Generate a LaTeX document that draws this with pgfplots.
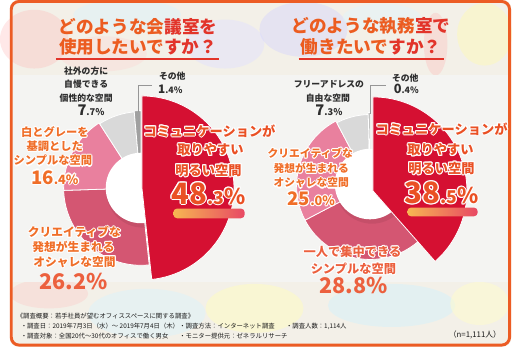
\documentclass[border=0pt]{standalone}
\usepackage{fontspec}
\setmainfont{Noto Sans CJK JP}
\usepackage{pgfplots}
\usepackage{pgfplotstable}
\pgfplotsset{compat=1.18}
\usepackage{contour}
\contourlength{1.1pt}
\contournumber{10}

\definecolor{cred}{RGB}{213,16,50}
\definecolor{cpd}{RGB}{212,86,114}
\definecolor{cpl}{RGB}{233,128,158}
\definecolor{cgl}{RGB}{217,217,217}
\definecolor{cgd}{RGB}{160,160,160}
\definecolor{bgcream}{RGB}{243,240,232}
\definecolor{bandgray}{RGB}{244,244,242}
\definecolor{frameor}{RGB}{236,92,36}
\definecolor{tor}{RGB}{236,92,32}
\definecolor{tor2}{RGB}{226,52,42}
\definecolor{lblor}{RGB}{240,110,40}
\definecolor{lblred}{RGB}{234,80,36}
\definecolor{pctor}{RGB}{236,96,62}
\definecolor{txtgray}{RGB}{45,45,45}
\definecolor{footc}{RGB}{25,25,25}
\definecolor{leader}{RGB}{150,150,150}
\definecolor{baror1}{RGB}{247,182,82}
\definecolor{baror2}{RGB}{232,72,100}

\newcommand\fs[1]{\fontsize{#1}{#1}\selectfont}
\newcommand\W[1]{\contour{white}{#1}}
\newcommand\pctp[5]{{\fs{#3}#1\fs{#4}#2\fs{#5}\%}}
\newcommand\pct[5]{\contour{white}{\fs{#3}#1\fs{#4}#2\fs{#5}\%}}

\pgfplotstableread{
v r dx dy col
48.3 94 1 0 cred
26.2 79 0 0 cpd
16.4 79 0 0 cpl
7.7 78 0 0 cgl
1.4 79 0 0 cgd
}\leftpie

\pgfplotstableread{
v r dx dy col
38.5 96 3 5 cred
28.8 75 0 0 cpd
25.0 75 0 0 cpl
7.3 73 0 0 cgl
0.4 75 0 0 cgd
}\rightpie

% #1 table, #2 cx, #3 cy, #4 first row, #5 last row
\newcommand\drawslices[5]{%
  \def\cum{0}%
  \pgfplotsforeachungrouped \i in {0,...,4}{%
    \pgfplotstablegetelem{\i}{v}\of#1\let\sv\pgfplotsretval
    \pgfmathsetmacro\sa{\cum*3.6}%
    \pgfmathsetmacro\cum{\cum+\sv}%
    \pgfmathsetmacro\sb{\cum*3.6}%
    \ifnum\i<#4\relax\else\ifnum\i>#5\relax\else
      \pgfplotstablegetelem{\i}{r}\of#1\let\sr\pgfplotsretval
      \pgfplotstablegetelem{\i}{dx}\of#1\let\sdx\pgfplotsretval
      \pgfplotstablegetelem{\i}{dy}\of#1\let\sdy\pgfplotsretval
      \pgfplotstablegetelem{\i}{col}\of#1\let\scol\pgfplotsretval
      \pgfmathsetmacro\ccx{#2+\sdx}\pgfmathsetmacro\ccy{#3+\sdy}%
      \edef\tmp{\noexpand\addplot[fill=\scol, draw=white, line width=0.8pt, domain=\sa:\sb, samples=60] ({\ccx+\sr*sin(x)},{\ccy-\sr*cos(x)}) -- (axis cs:\ccx,\ccy) -- cycle;}%
      \tmp
    \fi\fi
  }%
}

\begin{document}
\begin{tikzpicture}
\begin{axis}[width=512pt,height=354pt,scale only axis,
  xmin=0,xmax=512,ymin=0,ymax=354,y dir=reverse,
  hide axis,clip=false]

% ---------- background ----------
\fill[white] (0,0) rectangle (512,354);
\fill[bgcream, rounded corners=8pt] (0,0) rectangle (512,354);
\fill[red!30, opacity=0.30] (25,40) ellipse [x radius=35, y radius=30];
\fill[cyan!15, opacity=0.45] (120,15) ellipse [x radius=55, y radius=15];
\fill[red!20, opacity=0.25] (95,55) ellipse [x radius=45, y radius=18];
\fill[blue!12, opacity=0.45] (220,45) ellipse [x radius=40, y radius=25];
\fill[blue!18, opacity=0.40] (300,30) ellipse [x radius=45, y radius=28];
\fill[red!30, opacity=0.30] (435,45) ellipse [x radius=12, y radius=32];
\fill[yellow!30, opacity=0.45] (485,35) ellipse [x radius=28, y radius=32];
\fill[cyan!12, opacity=0.45] (380,18) ellipse [x radius=40, y radius=14];
\fill[red!25, opacity=0.30] (40,300) ellipse [x radius=40, y radius=15];
\fill[cyan!15, opacity=0.45] (140,320) ellipse [x radius=60, y radius=25];
\fill[yellow!25, opacity=0.5] (250,315) ellipse [x radius=50, y radius=25];
\fill[cyan!18, opacity=0.45] (390,312) ellipse [x radius=65, y radius=22];
\fill[yellow!20, opacity=0.5] (480,310) ellipse [x radius=30, y radius=22];
\fill[bandgray] (3,77) rectangle (509,288);
\draw[frameor, line width=3pt, rounded corners=8pt] (1.5,1.5) rectangle (510.5,352.5);

% ---------- titles ----------
\node[anchor=base, inner sep=0, font=\fs{18}\bfseries] at (131,34)
  {{\color{tor}どのような会}{\color{tor2}議室を}};
\node[anchor=base, inner sep=0, font=\fs{18}\bfseries] at (131,55)
  {{\color{tor}使用したいで}{\color{tor2}すか？}};
\draw[tor2, line width=1.6pt] (47,60) -- (214,60);
\node[anchor=base, inner sep=0, font=\fs{18}\bfseries] at (369,33)
  {{\color{tor}どのような執務}{\color{tor2}室で}};
\node[anchor=base, inner sep=0, font=\fs{18}\bfseries] at (369,55)
  {{\color{tor}働きたいで}{\color{tor2}すか？}};
\draw[tor2, line width=1.6pt] (295,60) -- (444,60);

% ---------- pies ----------
\drawslices{\leftpie}{134}{192}{1}{4}
\drawslices{\rightpie}{368}{190}{1}{4}
\fill[black, opacity=0.07] (136,195) circle[radius=37.5];
\fill[white] (134,192) circle[radius=36];
\fill[black, opacity=0.07] (370,191) circle[radius=37.5];
\fill[white] (368,188) circle[radius=36];
\drawslices{\leftpie}{134}{192}{0}{0}
\drawslices{\rightpie}{368}{190}{0}{0}

% leaders
\draw[leader, line width=0.8pt] (145,87) -- (131,87) -- (131,114);
\draw[leader, line width=0.8pt] (384,87) -- (368.5,87) -- (368.5,116);

% ---------- left pie labels ----------
\begin{scope}[every node/.style={anchor=base, inner sep=0, font=\bfseries}]
\node[text=txtgray, font=\fs{9}\bfseries] at (78,76.5) {社外の方に};
\node[text=txtgray, font=\fs{9}\bfseries] at (78,89.5) {自慢できる};
\node[text=txtgray, font=\fs{9}\bfseries] at (78,103.5) {個性的な空間};
\node[text=txtgray, font=\bfseries] at (83,118) {\pctp{7}{.7}{15}{9.5}{9.5}};
\node[text=txtgray, font=\fs{9}\bfseries] at (166,81.5) {その他};
\node[text=txtgray, font=\bfseries] at (164,95) {\pctp{1}{.4}{12}{9}{9}};

\node[text=lblor, font=\fs{11.5}\bfseries] at (46,139.5) {\W{白とグレーを}};
\node[text=lblor, font=\fs{11.5}\bfseries] at (46,153.5) {\W{基調とした}};
\node[text=lblor, font=\fs{11.5}\bfseries] at (44,168.5) {\W{シンプルな空間}};
\node[text=lblor, font=\bfseries] at (46,188) {\pct{16}{.4}{19}{13}{13}};

\node[text=lblor, font=\fs{12}\bfseries] at (66,242) {\W{クリエイティブな}};
\node[text=lblor, font=\fs{12}\bfseries] at (65,257) {\W{発想が生まれる}};
\node[text=lblor, font=\fs{12}\bfseries] at (66,272) {\W{オシャレな空間}};
\node[text=pctor, font=\bfseries] at (65,296) {\pctp{26}{.2}{22}{22}{22}};

\node[text=lblred, font=\fs{13.5}\bfseries] at (204,139) {\W{コミュニケーションが}};
\node[text=lblred, font=\fs{13.5}\bfseries] at (205,158) {\W{取りやすい}};
\node[text=lblred, font=\fs{13.5}\bfseries] at (203,179) {\W{明るい空間}};
\node[text=lblred, font=\bfseries] at (203,208.5) {\pct{48}{.3}{30}{18}{22}};
\end{scope}
\shade[left color=baror1, right color=baror2, rounded corners=4pt] (167,213) rectangle (240,223);

% ---------- right pie labels ----------
\begin{scope}[every node/.style={anchor=base, inner sep=0, font=\bfseries}]
\node[text=txtgray, font=\fs{9}\bfseries] at (326,89.5) {フリーアドレスの};
\node[text=txtgray, font=\fs{9}\bfseries] at (325,103.5) {自由な空間};
\node[text=txtgray, font=\bfseries] at (326,118) {\pctp{7}{.3}{15}{9.5}{9.5}};
\node[text=txtgray, font=\fs{9}\bfseries] at (404,83.5) {その他};
\node[text=txtgray, font=\bfseries] at (405,96) {\pctp{0}{.4}{13}{9}{9}};

\node[text=lblor, font=\fs{11}\bfseries] at (307,161) {\W{クリエイティブな}};
\node[text=lblor, font=\fs{11}\bfseries] at (308,176) {\W{発想が生まれる}};
\node[text=lblor, font=\fs{11}\bfseries] at (308,191) {\W{オシャレな空間}};
\node[text=lblor, font=\bfseries] at (308,210) {\pct{25}{.0}{19}{13}{13}};

\node[text=pctor, font=\fs{12.5}\bfseries] at (350,262) {\W{一人で集中できる}};
\node[text=pctor, font=\fs{12.5}\bfseries] at (351,279) {\W{シンプルな空間}};
\node[text=pctor, font=\bfseries] at (351,300) {\pctp{28}{.8}{22}{22}{22}};

\node[text=lblred, font=\fs{13.5}\bfseries] at (441,137) {\W{コミュニケーションが}};
\node[text=lblred, font=\fs{13.5}\bfseries] at (440,158) {\W{取りやすい}};
\node[text=lblred, font=\fs{13.5}\bfseries] at (441,177) {\W{明るい空間}};
\node[text=lblred, font=\bfseries] at (441,208) {\pct{38}{.5}{30}{18}{22}};
\end{scope}
\shade[left color=baror1, right color=baror2, rounded corners=4pt] (406,212) rectangle (478,221);

% ---------- footer ----------
\begin{scope}[every node/.style={anchor=base west, inner sep=0, text=footc, font=\fs{6.5}}]
\node at (7,325.5) {《調査概要：若手社員が望むオフィススペースに関する調査》};
\node at (11,335.5) {・調査日：2019年7月3日（水）～ 2019年7月4日（木）};
\node at (173,335.5) {・調査方法：インターネット調査};
\node at (282,335.5) {・調査人数：1,114人};
\node at (11,345.5) {・調査対象：全国20代～30代のオフィスで働く男女};
\node at (173,345.5) {・モニター提供元：ゼネラルリサーチ};
\end{scope}
\node[anchor=base east, inner sep=0, text=footc, font=\fs{8}] at (502,345) {（n=1,111人）};

\end{axis}
\end{tikzpicture}
\end{document}
